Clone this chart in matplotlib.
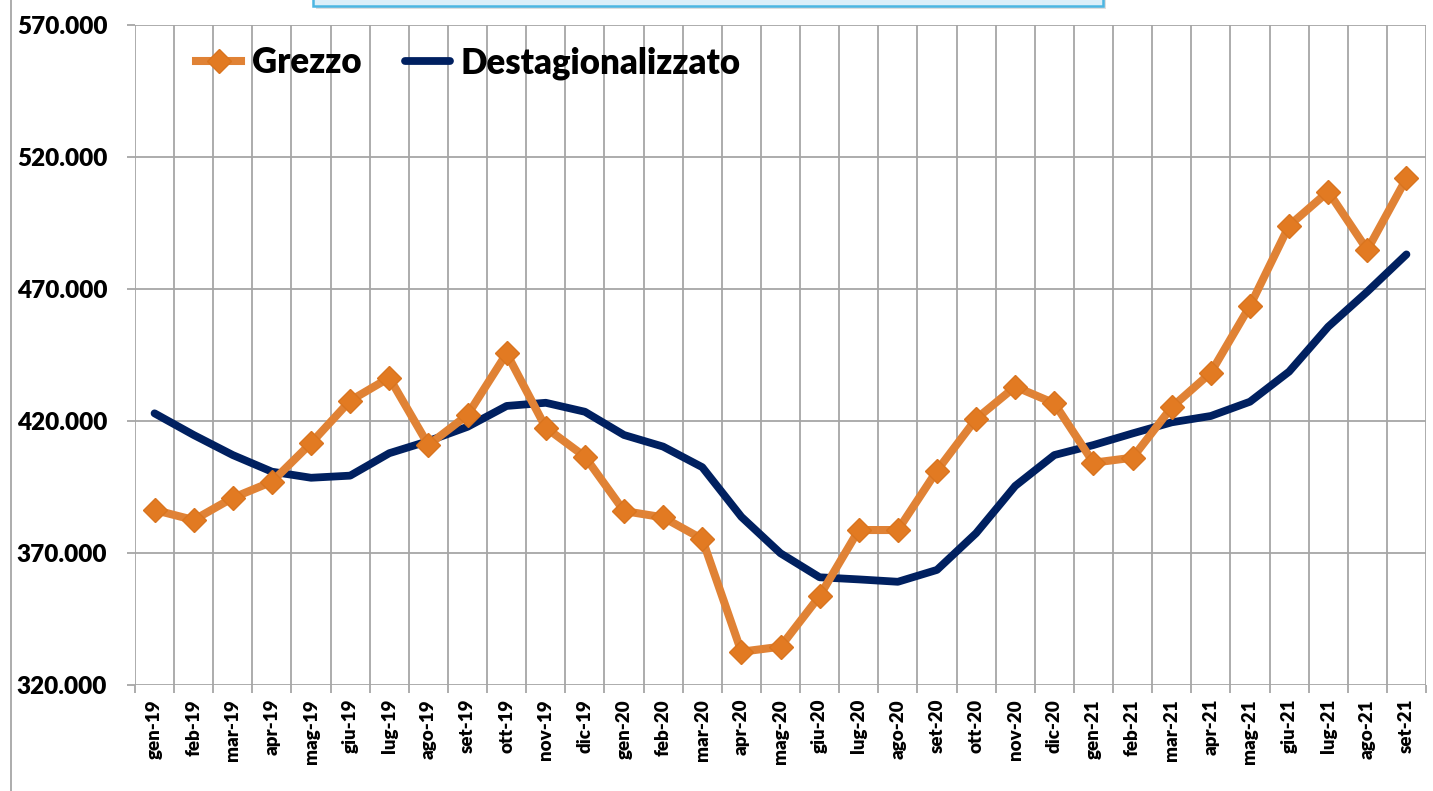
import numpy as np
import matplotlib
matplotlib.use('Agg')
import matplotlib.pyplot as plt
from matplotlib.patches import Rectangle
from matplotlib.lines import Line2D
from matplotlib.ticker import FuncFormatter

plt.rcParams['font.family'] = ['Lato', 'DejaVu Sans']

# ============================================================
# DATA (thousands)
# ============================================================
months = [
    'gen-19', 'feb-19', 'mar-19', 'apr-19', 'mag-19', 'giu-19', 'lug-19',
    'ago-19', 'set-19', 'ott-19', 'nov-19', 'dic-19',
    'gen-20', 'feb-20', 'mar-20', 'apr-20', 'mag-20', 'giu-20', 'lug-20',
    'ago-20', 'set-20', 'ott-20', 'nov-20', 'dic-20',
    'gen-21', 'feb-21', 'mar-21', 'apr-21', 'mag-21', 'giu-21', 'lug-21',
    'ago-21', 'set-21',
]

grezzo = [
    386.3, 382.5, 390.9, 397.0, 411.6, 427.7, 436.4, 410.9, 422.3, 445.6,
    417.5, 406.5, 385.9, 383.5, 375.3, 332.6, 334.5, 353.7, 378.7, 378.7,
    401.2, 420.8, 433.0, 426.7, 404.2, 406.1, 425.2, 438.3, 463.6, 494.0,
    506.9, 484.8, 511.9,
]

destag = [
    422.9, 414.7, 407.1, 400.8, 398.5, 399.3, 407.8, 412.4, 417.8, 425.7,
    426.9, 423.5, 414.7, 410.3, 402.5, 383.7, 369.9, 360.8, 360.0, 359.1,
    363.6, 377.5, 395.4, 407.1, 410.9, 415.3, 419.5, 421.9, 427.3, 438.7,
    455.7, 469.0, 483.1,
]

y_ticks = [320000, 370000, 420000, 470000, 520000, 570000]

grezzo = np.array(grezzo) * 1000
destag = np.array(destag) * 1000
x = np.arange(len(months))

# ============================================================
# FIGURE
# ============================================================
W, H = 1433, 791
fig = plt.figure(figsize=(W / 100, H / 100), dpi=100)
ax = fig.add_axes([135 / W, 1 - 685 / H, 1291 / W, 660 / H])

grid_col = '#a6a6a6'
weight = 'heavy'

ax.plot(x, destag, color='#002060', linewidth=5.6,
        solid_capstyle='round', solid_joinstyle='round',
        label='Destagionalizzato', zorder=3)
ax.plot(x, grezzo, color='#E08235', linewidth=5.8,
        marker='D', markersize=12, markerfacecolor='#E27A22',
        markeredgecolor='#D9741F', markeredgewidth=1,
        solid_joinstyle='round', label='Grezzo', zorder=4)

ax.set_xlim(-0.5, len(months) - 0.5)
ax.set_ylim(y_ticks[0], y_ticks[-1])

# category labels at centres, gridlines/ticks at boundaries
ax.set_xticks(x)
ax.set_xticklabels(months, rotation=90, fontsize=13.5, fontweight=weight)
ax.set_xticks(np.arange(len(months) + 1) - 0.5, minor=True)
ax.tick_params(axis='x', which='major', length=0, pad=10)
ax.tick_params(axis='x', which='minor', length=6, color=grid_col, width=1.3)

ax.set_yticks(y_ticks)
ax.yaxis.set_major_formatter(FuncFormatter(lambda v, p: f'{v/1000:.3f}'))
ax.tick_params(axis='y', length=6, color=grid_col, width=1.3, pad=14,
               labelsize=17.5)
for lab in ax.get_yticklabels():
    lab.set_fontweight(weight)

ax.grid(True, axis='y', which='major', color=grid_col, linewidth=1.3)
ax.grid(True, axis='x', which='minor', color=grid_col, linewidth=1.3)
ax.grid(False, axis='x', which='major')
ax.set_axisbelow(True)
for s in ax.spines.values():
    s.set_visible(False)

# legend
handles = [
    Line2D([], [], color='#E08235', linewidth=5.8, marker='D',
           markersize=12, markerfacecolor='#E27A22',
           markeredgecolor='#D9741F'),
    Line2D([], [], color='#002060', linewidth=5.6, solid_capstyle='round'),
]
fig.legend(handles, ['Grezzo', 'Destagionalizzato'], ncol=2,
           loc='center left', bbox_to_anchor=(196 / W, 1 - 63 / H),
           frameon=False, prop={'size': 25, 'weight': weight},
           handlelength=1.3, handletextpad=0.3, columnspacing=1.25,
           borderpad=0, borderaxespad=0)

# truncated title box at the top
fig.patches.append(Rectangle((316 / W, 1 - 9 / H), 790 / W, 30 / H,
                             transform=fig.transFigure, facecolor='#c8c8c8',
                             edgecolor='none', alpha=0.6, zorder=1))
fig.patches.append(Rectangle((313 / W, 1 - 6 / H), 790 / W, 30 / H,
                             transform=fig.transFigure, facecolor='#DDEFF9',
                             edgecolor='#4DB6E2', linewidth=1.8, zorder=2))

# chart border on the left
fig.add_artist(Line2D([11 / W, 11 / W], [0, 1], transform=fig.transFigure,
                      color=grid_col, linewidth=1.3))

fig.savefig('out.png', dpi=100)
